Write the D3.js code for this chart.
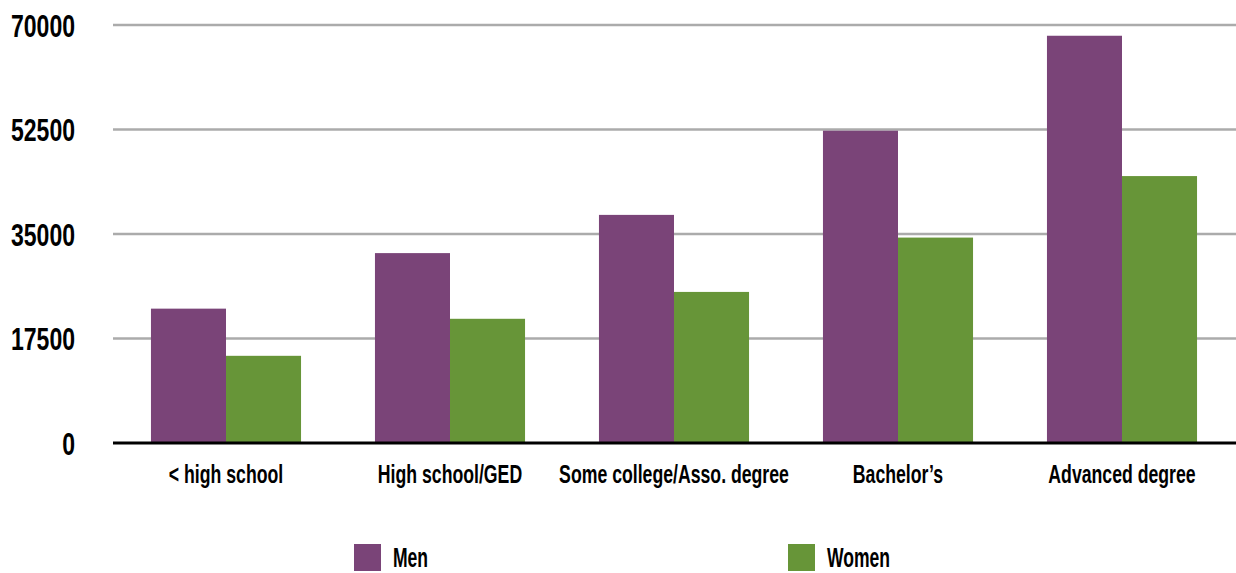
<!DOCTYPE html>
<html>
<head>
<meta charset="utf-8">
<script src="https://cdn.jsdelivr.net/npm/d3@7"></script>
<style>
  html, body { margin: 0; padding: 0; background: #fff; }
  svg { display: block; }
  text { font-family: "Liberation Sans", Arial, sans-serif; font-weight: bold; fill: #000; }
</style>
</head>
<body>
<svg id="chart" width="1236" height="573"></svg>
<script>
// Median earnings by education level and sex
const categories = ["< high school", "High school/GED", "Some college/Asso. degree", "Bachelor\u2019s", "Advanced degree"];
const seriesNames = ["Men", "Women"];
const menValues = [22500, 31800, 38200, 52300, 68200];
const womenValues = [14600, 20800, 25300, 34400, 44700];
const yTicks = [0, 17500, 35000, 52500, 70000];
const colors = ["#7a4478", "#679538"];

const svg = d3.select("#chart");
const W = 1236;

const x0 = d3.scaleBand().domain(categories).range([114, 1234])
  .paddingInner(0.33).paddingOuter(0.165);
const x1 = d3.scaleBand().domain(seriesNames).range([0, x0.bandwidth()]);
const y = d3.scaleLinear().domain([0, 70000]).range([443, 25]);
const color = d3.scaleOrdinal().domain(seriesNames).range(colors);

const rows = categories.map((c, i) => ({ cat: c, values: [
  { key: "Men", value: menValues[i] },
  { key: "Women", value: womenValues[i] }
]}));

// horizontal gridlines
svg.append("g").selectAll("line").data(yTicks.filter(d => d > 0)).join("line")
  .attr("x1", 113).attr("x2", W)
  .attr("y1", d => y(d)).attr("y2", d => y(d))
  .attr("stroke", "#ababab").attr("stroke-width", 2.5);

// y tick labels, horizontally condensed
svg.append("g").selectAll("text").data(yTicks).join("text")
  .attr("transform", d => `translate(75,${y(d)}) scale(0.72,1)`)
  .attr("text-anchor", "end").attr("dy", "0.36em")
  .style("font-size", "32px")
  .text(d => d);

// bars
const groups = svg.append("g").selectAll("g").data(rows).join("g")
  .attr("transform", d => `translate(${x0(d.cat)},0)`);
groups.selectAll("rect").data(d => d.values).join("rect")
  .attr("x", d => x1(d.key))
  .attr("width", x1.bandwidth())
  .attr("y", d => y(d.value))
  .attr("height", d => y(0) - y(d.value))
  .attr("fill", d => color(d.key));

// baseline
svg.append("line").attr("x1", 113).attr("x2", W)
  .attr("y1", y(0)).attr("y2", y(0))
  .attr("stroke", "#000").attr("stroke-width", 3);

// category labels
svg.append("g").selectAll("text").data(categories).join("text")
  .attr("transform", d => `translate(${x0(d) + x0.bandwidth() / 2},483) scale(0.68,1)`)
  .attr("text-anchor", "middle")
  .style("font-size", "26px")
  .text(d => d);

// legend
const legendX = [354, 788];
const legend = svg.append("g").selectAll("g").data(seriesNames).join("g")
  .attr("transform", (d, i) => `translate(${legendX[i]},544)`);
legend.append("rect").attr("width", 27).attr("height", 27).attr("fill", d => color(d));
legend.append("text")
  .attr("transform", "translate(39,23) scale(0.65,1)")
  .style("font-size", "27px")
  .text(d => d);
</script>
</body>
</html>
